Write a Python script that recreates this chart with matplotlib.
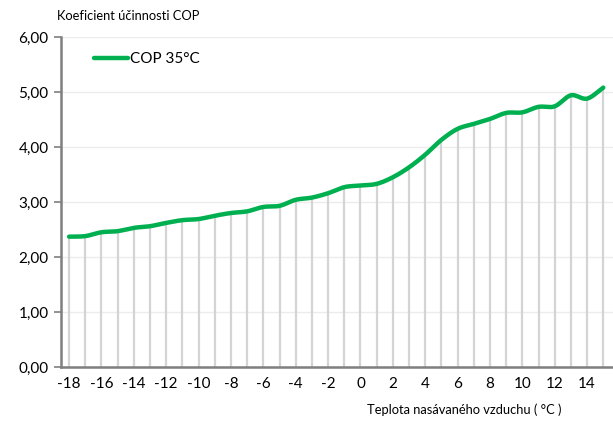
import numpy as np
import matplotlib
matplotlib.use("Agg")
import matplotlib.pyplot as plt
from matplotlib.ticker import FuncFormatter

plt.rcParams['font.family'] = ['Lato', 'DejaVu Sans']
plt.rcParams['axes.unicode_minus'] = False

# data
teplota = list(range(-18, 16))
cop_35 = [2.37, 2.38, 2.45, 2.47, 2.53, 2.56, 2.62, 2.67, 2.69, 2.75,
          2.80, 2.83, 2.91, 2.93, 3.04, 3.08, 3.16, 3.27, 3.30, 3.33,
          3.45, 3.63, 3.86, 4.13, 4.33, 4.42, 4.51, 4.62, 4.63, 4.73,
          4.74, 4.94, 4.88, 5.08]
x_ticks = list(range(-18, 15, 2))
y_ticks = [0, 1, 2, 3, 4, 5, 6]

green = "#00b050"


def smooth(x, y, n=12):
    # catmull-rom like smoothing (Excel "smoothed line")
    x = np.asarray(x, float)
    y = np.asarray(y, float)
    px = np.concatenate([[2 * x[0] - x[1]], x, [2 * x[-1] - x[-2]]])
    py = np.concatenate([[2 * y[0] - y[1]], y, [2 * y[-1] - y[-2]]])
    xs, ys = [], []
    t = np.linspace(0, 1, n, endpoint=False)
    for i in range(1, len(px) - 2):
        for p, out in ((px, xs), (py, ys)):
            p0, p1, p2, p3 = p[i - 1], p[i], p[i + 1], p[i + 2]
            out.extend(0.5 * (2 * p1 + (-p0 + p2) * t
                              + (2 * p0 - 5 * p1 + 4 * p2 - p3) * t ** 2
                              + (-p0 + 3 * p1 - 3 * p2 + p3) * t ** 3))
    xs.append(x[-1])
    ys.append(y[-1])
    return np.array(xs), np.array(ys)


fig = plt.figure(figsize=(6.13, 4.21), dpi=100)
ax = fig.add_axes([61 / 613, 1 - 367 / 421, 552 / 613, 330 / 421])

# drop lines
ax.vlines(teplota, 0, cop_35, color="#d4d4d4", lw=1.6, zorder=2)

sx, sy = smooth(teplota, cop_35)
ax.plot(sx, sy, color=green, lw=3.2, solid_capstyle="round",
        label="COP 35°C", zorder=3)

ax.set_xlim(-18.5, 15.6)
ax.set_ylim(0, 6)
ax.set_xticks(x_ticks)
ax.set_yticks(y_ticks)
ax.yaxis.set_major_formatter(FuncFormatter(lambda v, p: f"{v:.2f}".replace(".", ",")))
ax.tick_params(axis="x", length=0, pad=7, labelsize=11)
ax.tick_params(axis="y", length=5, width=1.2, color="#7f7f7f", pad=4, labelsize=11)
ax.grid(axis="y", color="#ececec", lw=1, zorder=0)
ax.set_axisbelow(True)

for s in ["top", "right"]:
    ax.spines[s].set_visible(False)
for s in ["left", "bottom"]:
    ax.spines[s].set_color("#7f7f7f")
    ax.spines[s].set_linewidth(1.8)

leg = ax.legend(loc="upper left", bbox_to_anchor=(0.035, 0.995), frameon=False,
                fontsize=11, handlelength=2.2, handletextpad=0.15)

fig.text(57 / 613, 1 - 16 / 421, "Koeficient účinnosti COP", fontsize=9.3, va="center")
fig.text(464 / 613, 1 - 410 / 421, "Teplota nasávaného vzduchu ( °C )", fontsize=9.3,
         ha="center", va="center")

fig.savefig("out.png", dpi=100)
